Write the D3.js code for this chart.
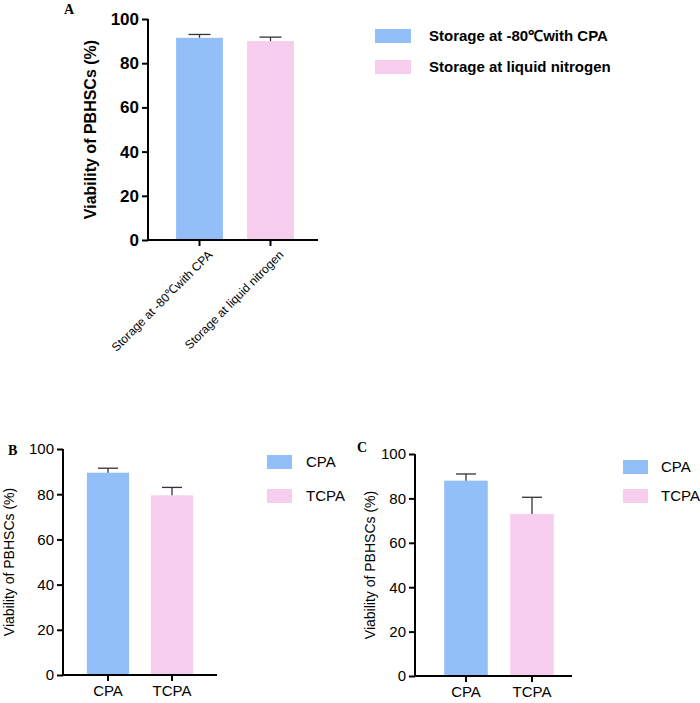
<!DOCTYPE html>
<html><head><meta charset="utf-8">
<script src="https://cdn.jsdelivr.net/npm/d3@7"></script>
<style>body{margin:0;background:#fff}svg{font-family:Arial,"Liberation Sans",sans-serif}</style>
</head><body><div id="chart"></div>
<script>
// data
var catsA = ["Storage at -80\u2103with CPA", "Storage at liquid nitrogen"];
var meansA = [91.5, 90];
var errA = [1.5, 1.8];
var catsB = ["CPA", "TCPA"];
var meansB = [89.5, 79.5];
var errB = [2, 3.5];
var catsC = ["CPA", "TCPA"];
var meansC = [88, 73];
var errC = [3, 7.5];
var yTicks = [0, 20, 40, 60, 80, 100];
var colors = ["#93bff8", "#f7cdee"];

var svg = d3.select("#chart").append("svg").attr("width", 700).attr("height", 703);

function panel(o) {
    var g = svg.append("g");
    var y = d3.scaleLinear().domain([0, 100]).range([o.y0, o.y100]);
    var x = d3.scaleBand().domain(o.cats).range([o.xl, o.xr]).paddingInner(o.pi).paddingOuter(o.po);
    // bars
    g.selectAll("rect.bar").data(o.means).enter().append("rect")
        .attr("x", (d, i) => x(o.cats[i]))
        .attr("width", x.bandwidth())
        .attr("y", d => y(d))
        .attr("height", d => o.y0 - y(d))
        .attr("fill", (d, i) => colors[i]);
    // error bars
    o.means.forEach(function (m, i) {
        var cx = x(o.cats[i]) + x.bandwidth() / 2;
        g.append("line").attr("x1", cx).attr("x2", cx).attr("y1", y(m)).attr("y2", y(m + o.err[i])).attr("stroke", "#333").attr("stroke-width", 1.3);
        g.append("line").attr("x1", cx - o.cap).attr("x2", cx + o.cap).attr("y1", y(m + o.err[i])).attr("y2", y(m + o.err[i])).attr("stroke", "#333").attr("stroke-width", 1.3);
    });
    // axes
    var ya = g.append("g").attr("transform", "translate(" + o.ax + ",0)")
        .call(d3.axisLeft(y).tickValues(yTicks).tickSize(6).tickPadding(3));
    ya.selectAll("text").attr("font-size", o.fs).attr("font-weight", o.bold ? "bold" : "normal").attr("fill", "#000");
    ya.selectAll("line,path").attr("stroke", "#000").attr("stroke-width", 2);
    ya.select("path").attr("d", "M0," + (o.y0 + 1) + "V" + o.y100);
    var xa = g.append("g").attr("transform", "translate(0," + o.y0 + ")")
        .call(d3.axisBottom(x).tickSize(6).tickPadding(4));
    xa.select("path").attr("d", "M" + o.ax + ",0H" + o.axr).attr("stroke", "#000").attr("stroke-width", 2);
    xa.selectAll("line").attr("stroke", "#000").attr("stroke-width", 2);
    var xt = xa.selectAll("text").attr("fill", "#000").attr("font-size", o.xfs);
    if (o.rot) xt.attr("text-anchor", "end").attr("dy", "0.3em").attr("transform", "translate(4,6) rotate(-45)");
    // y label
    g.append("text").attr("transform", "translate(" + o.lx + "," + (o.y0 + o.y100) / 2 + ") rotate(-90)")
        .attr("text-anchor", "middle").attr("font-size", o.lfs).attr("font-weight", o.bold ? "bold" : "normal")
        .text("Viability of PBHSCs (%)");
    // panel letter
    g.append("text").attr("x", o.letter[0]).attr("y", o.letter[1]).attr("font-family", "Liberation Serif, serif")
        .attr("font-weight", "bold").attr("font-size", 14).text(o.name);
    // legend
    o.cats.forEach(function (c, i) {
        var ly = o.leg[1] + i * o.leg[2];
        g.append("rect").attr("x", o.leg[0]).attr("y", ly - 7).attr("width", o.sw).attr("height", 14).attr("fill", colors[i]);
        g.append("text").attr("x", o.leg[0] + o.sw + o.gap).attr("y", ly + 5).attr("font-size", o.legfs)
            .attr("font-weight", o.bold ? "bold" : "normal").text(c);
    });
}

panel({name: "A", cats: catsA, means: meansA, err: errA, y0: 240, y100: 19, ax: 148, axr: 318,
    xl: 164, xr: 306, pi: 0.34, po: 0.17, cap: 11, fs: 17, xfs: 12, bold: true, rot: true,
    lx: 96, lfs: 16, letter: [64, 14], leg: [375, 36, 31], sw: 36, gap: 18, legfs: 15});
panel({name: "B", cats: catsB, means: meansB, err: errB, y0: 675, y100: 449, ax: 63, axr: 217,
    xl: 76, xr: 204, pi: 0.34, po: 0.17, cap: 10, fs: 15, xfs: 15, bold: false,
    lx: 14, lfs: 14, letter: [8, 455], leg: [267, 462, 34], sw: 25, gap: 14, legfs: 15});
panel({name: "C", cats: catsC, means: meansC, err: errC, y0: 676, y100: 454, ax: 415, axr: 572,
    xl: 431, xr: 567, pi: 0.34, po: 0.2, cap: 10, fs: 15, xfs: 15, bold: false,
    lx: 375, lfs: 14, letter: [357, 452], leg: [623, 467, 29], sw: 25, gap: 13, legfs: 15});
</script>
</body></html>
